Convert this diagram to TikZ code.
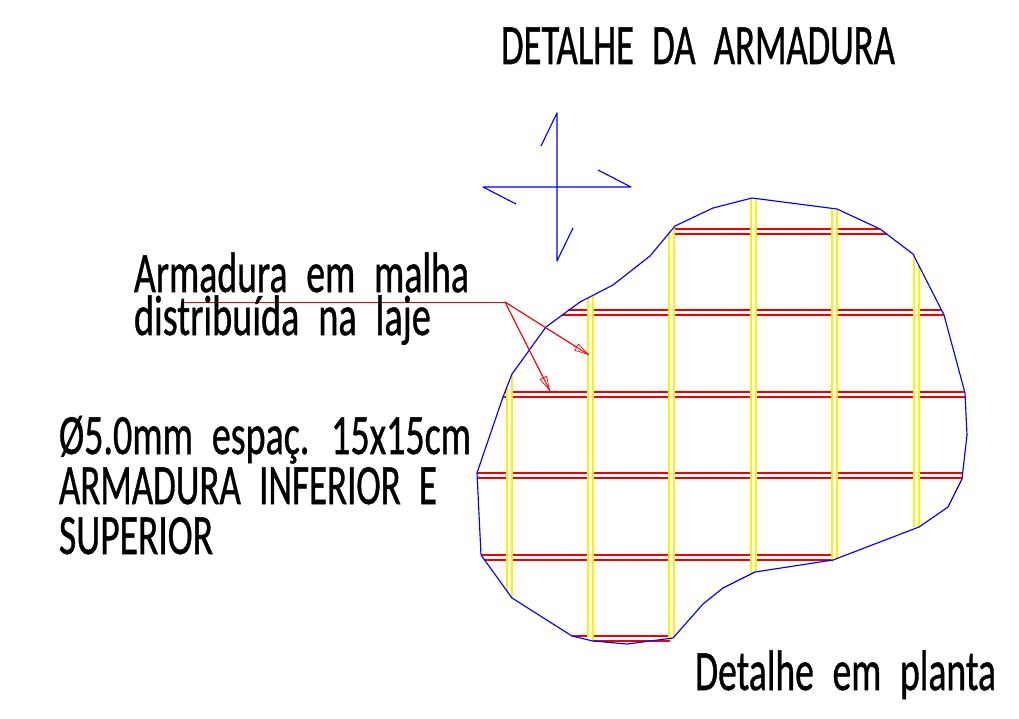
\documentclass[tikz,border=0pt]{standalone}
\usepackage{graphicx}
\usepackage{fontspec}
\setmainfont[WordSpace=2.2,FakeBold=0.9]{Carlito}
\usetikzlibrary{arrows.meta}
\tikzset{
  x=1pt,y=-1pt,
  outline/.style={draw=blue,line width=1.15pt,line join=round},
  redbar/.style={draw=red!95!black,line width=2pt},
  yellowbar/.style={draw=yellow,line width=2.5pt},
  leader/.style={draw=red,line width=1pt},
  tip/.style={draw=red,line width=0.7pt,-{Triangle[open,length=15pt,width=8pt]}},
  lab/.style={anchor=base west,inner sep=0pt,outer sep=0pt,text=black,font=\fontsize{57pt}{57pt}\selectfont}
}
\newcommand{\wtext}[2]{\resizebox{#1pt}{\height}{#2}}
\newcommand{\rowbars}[6]{%
  \draw[redbar] (#2,#1) -- (#3,#1);
  \draw[redbar] (#5,#4) -- (#6,#4);}
\newcommand{\colbars}[6]{%
  \fill[white] (#1,#2) -- (#4,#5) -- (#4,#6) -- (#1,#3) -- cycle;
  \draw[yellowbar] (#1,#2) -- (#1,#3);
  \draw[yellowbar] (#4,#5) -- (#4,#6);}
\begin{document}
\begin{tikzpicture}
\useasboundingbox[fill=white] (0,0) rectangle (1019,719);
% leader
\coordinate (lstart) at (182,302);
\coordinate (lknee) at (505,302);
\coordinate (ltipa) at (589,355);
\coordinate (ltipb) at (550,391);
% reinforcement, red rows
\rowbars{229}{675}{880}{234}{675}{887}
\rowbars{310}{568}{942}{315}{562}{944}
\rowbars{392}{505}{964}{397}{503}{965}
\rowbars{473}{477}{963}{478}{477}{962}
\rowbars{555}{481}{833}{560}{484}{833}
\rowbars{636}{572}{670}{641}{593}{670}
% yellow columns: left x, top, bottom; right x, top, bottom
\colbars{507}{388}{593}{512}{374}{598}
\colbars{588}{298}{637}{593}{295}{641}
\colbars{669}{233}{640}{674}{226}{638}
\colbars{751}{198}{573}{756}{198}{571}
\colbars{832}{209}{560}{837}{209}{558}
\colbars{914}{254}{527}{919}{266}{527}
% slab outline
\draw[outline] (477,473) -- (481,555) -- (512,598) -- (572,636) -- (593,641) -- (627,644) -- (673,638) -- (703,604) -- (723,588) -- (755,572) -- (833,560) -- (919,527) -- (948,507) -- (962,479) -- (967,435) -- (965,393) -- (944,315) -- (913,254) -- (880,229) -- (837,209) -- (752,198) -- (713,208) -- (675,226) -- (650,256) -- (613,285) -- (580,302) -- (546,327) -- (512,374) -- (503,397) -- cycle;
% north cross
\coordinate (ct) at (557,113);
\coordinate (cb) at (557,261);
\coordinate (cl) at (483,187);
\coordinate (cr) at (631,187);
\draw[outline] (541,146) -- (ct) -- (cb) -- (573,228);
\draw[outline] (516,204) -- (cl) -- (cr) -- (598,170);
% leader lines
\draw[leader] (lstart) -- (lknee);
\draw[leader] (lknee) -- (ltipa);
\draw[leader] (lknee) -- (ltipb);
\draw[tip] (lknee) -- (ltipa);
\draw[tip] (lknee) -- (ltipb);
% texts
\node[lab] (title) at (501,64) {\wtext{394}{DETALHE DA ARMADURA}};
\node[lab] (l1) at (134,292) {\wtext{335}{Armadura em malha}};
\node[lab] (l2) at (134,335) {\wtext{297}{distribuída na laje}};
\node[lab] (l3) at (59,454) {\wtext{412}{Ø5.0mm espaç. 15x15cm}};
\node[lab] (l4) at (59,504) {\wtext{378}{ARMADURA INFERIOR E}};
\node[lab] (l5) at (59,554) {\wtext{154}{SUPERIOR}};
\node[lab] (plan) at (695,690) {\wtext{301}{Detalhe em planta}};
\end{tikzpicture}
\end{document}
